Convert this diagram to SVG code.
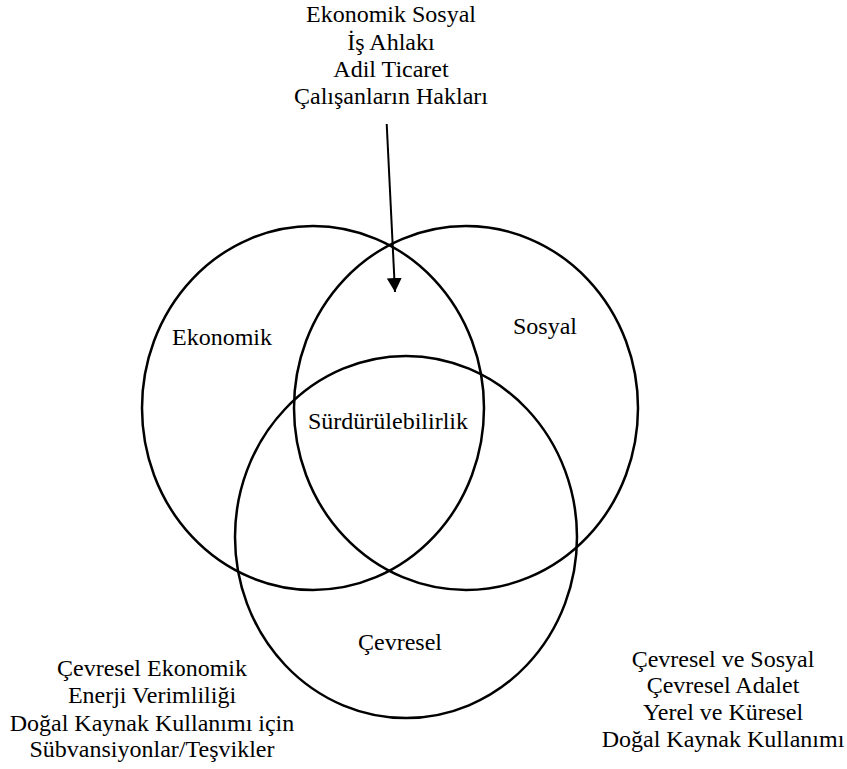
<svg xmlns="http://www.w3.org/2000/svg" width="847" height="769" viewBox="0 0 847 769">
<style>
.c{fill:none;stroke:#000;stroke-width:2.5}
.a{stroke:#000;stroke-width:2;fill:none}
.t{font-family:"Liberation Serif","Times New Roman",serif;font-size:24px;fill:#000;text-anchor:middle}
</style>
<defs>
<marker id="ah" markerWidth="15" markerHeight="15" refX="14" refY="7.5" orient="auto" markerUnits="userSpaceOnUse">
<path d="M0,0 L14,7.5 L0,15 Z" fill="#000"/>
</marker>
</defs>
<rect width="847" height="769" fill="#fff"/>
<g id="ekonomik">
<ellipse class="c" cx="313" cy="408" rx="171" ry="182"/>
<text class="t" x="222" y="345">Ekonomik</text>
</g>
<g id="sosyal">
<ellipse class="c" cx="466" cy="408" rx="172" ry="182"/>
<text class="t" x="545" y="334">Sosyal</text>
</g>
<g id="cevresel">
<ellipse class="c" cx="406" cy="537" rx="171" ry="181"/>
<text class="t" x="400" y="650">Çevresel</text>
</g>
<g id="surdurulebilirlik">
<text class="t" x="388" y="429">Sürdürülebilirlik</text>
</g>
<g id="ekonomik-sosyal">
<text class="t" x="391" y="22">Ekonomik Sosyal</text>
<text class="t" x="391" y="49.5">İş Ahlakı</text>
<text class="t" x="391" y="77">Adil Ticaret</text>
<text class="t" x="391" y="104">Çalışanların Hakları</text>
</g>
<g id="cevresel-ekonomik">
<text class="t" x="152" y="676">Çevresel Ekonomik</text>
<text class="t" x="152" y="703">Enerji Verimliliği</text>
<text class="t" x="152" y="730.5">Doğal Kaynak Kullanımı için</text>
<text class="t" x="152" y="757">Sübvansiyonlar/Teşvikler</text>
</g>
<g id="cevresel-sosyal">
<text class="t" x="723" y="666.5">Çevresel ve Sosyal</text>
<text class="t" x="723" y="693">Çevresel Adalet</text>
<text class="t" x="723" y="720">Yerel ve Küresel</text>
<text class="t" x="723" y="746.5">Doğal Kaynak Kullanımı</text>
</g>
<g id="connectors">
<line class="a" x1="386.7" y1="124" x2="395" y2="292" marker-end="url(#ah)"/>
</g>
</svg>
